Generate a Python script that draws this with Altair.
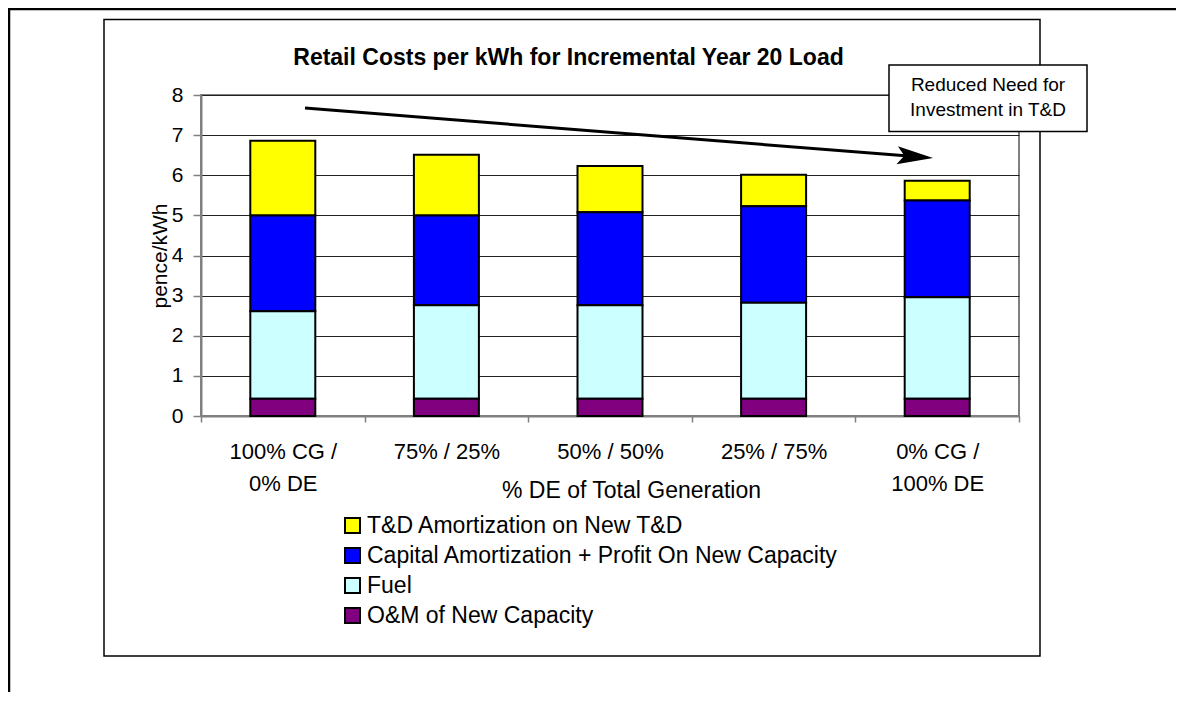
import altair as alt
import pandas as pd

# ---- data ----
categories = ["100% CG /|0% DE", "75%  / 25%", "50% / 50%", "25% / 75%", "0% CG /|100% DE"]
series = [
    "T&D Amortization on New T&D",
    "Capital Amortization + Profit On New Capacity",
    "Fuel",
    "O&M of New Capacity",
]
td_amort = [1.86, 1.51, 1.15, 0.78, 0.49]
capital = [2.39, 2.24, 2.32, 2.41, 2.41]
fuel = [2.18, 2.33, 2.33, 2.39, 2.53]
om = [0.43, 0.43, 0.43, 0.43, 0.43]
colors = ["#FFFF00", "#0000FF", "#CCFFFF", "#800080"]
stack_rank = [3, 2, 1, 0]  # bottom -> top: O&M, Fuel, Capital, T&D
y_ticks = [0, 1, 2, 3, 4, 5, 6, 7, 8]

rows = []
for i, cat in enumerate(categories):
    for s, vals, rk in zip(series, [td_amort, capital, fuel, om], stack_rank):
        rows.append({"cat": cat, "series": s, "value": vals[i], "rank": rk})
df = pd.DataFrame(rows)

FONT = "Liberation Sans"
one = alt.Data(values=[{"a": 1}])

bars = alt.Chart(df).mark_bar(size=65, stroke="black", strokeWidth=2).encode(
    x=alt.X(
        "cat:N",
        sort=categories,
        scale=alt.Scale(paddingInner=0, paddingOuter=0),
        axis=alt.Axis(
            title="% DE of Total Generation",
            titleFontSize=23,
            titleFontWeight="normal",
            titleX=430,
            titleY=81,
            titleAlign="center",
            titleBaseline="alphabetic",
            labelExpr="split(datum.label, '|')",
            labelAngle=0,
            labelFontSize=22,
            labelBaseline="alphabetic",
            labelPadding=36,
            labelLineHeight=32,
            labelColor="black",
            tickBand="extent",
            tickSize=6,
            tickColor="#808080",
            tickWidth=1.5,
            domainColor="#808080",
            domainWidth=2,
            grid=False,
        ),
    ),
    y=alt.Y(
        "value:Q",
        stack="zero",
        scale=alt.Scale(domain=[0, 8], nice=False),
        axis=alt.Axis(
            values=y_ticks,
            title="pence/kWh",
            titleFontSize=21,
            titleFontWeight="normal",
            titleX=-41,
            titleY=160.5,
            titleAlign="center",
            titleBaseline="middle",
            labelFontSize=21,
            labelPadding=10,
            labelColor="black",
            tickSize=8,
            tickColor="#808080",
            tickWidth=1.5,
            domainColor="#808080",
            domainWidth=2,
            grid=True,
            gridColor="#222222",
            gridWidth=1,
        ),
    ),
    color=alt.Color(
        "series:N",
        scale=alt.Scale(domain=series, range=colors),
        legend=alt.Legend(
            title=None,
            orient="none",
            legendX=140,
            legendY=419,
            padding=0,
            symbolType="square",
            symbolSize=225,
            symbolStrokeColor="black",
            symbolStrokeWidth=2,
            labelFontSize=23,
            labelColor="black",
            labelOffset=3,
            labelLimit=700,
            rowPadding=6,
        ),
    ),
    order=alt.Order("rank:Q", sort="ascending"),
)

inner_frame = alt.Chart(one).mark_rect(filled=False, stroke="black", strokeWidth=1.5).encode(
    x=alt.value(-97), x2=alt.value(839), y=alt.value(-75.5), y2=alt.value(561)
)
outer_frame = alt.Chart(one).mark_rect(filled=False, stroke="black", strokeWidth=2.5).encode(
    x=alt.value(-192), x2=alt.value(1000), y=alt.value(-86), y2=alt.value(700)
)
arrow_line = alt.Chart(one).mark_rule(color="black", strokeWidth=3).encode(
    x=alt.value(104), y=alt.value(13), x2=alt.value(714), y2=alt.value(61.6)
)
arrow_head = alt.Chart(one).mark_point(
    shape="M 1 0 L -1 -0.5 L -0.6 0 L -1 0.5 Z",
    filled=True, color="black", opacity=1, size=1296, angle=4.55,
).encode(x=alt.value(714.1), y=alt.value(61.6))
note_box = alt.Chart(one).mark_rect(fill="white", stroke="black", strokeWidth=1.5).encode(
    x=alt.value(688), x2=alt.value(886), y=alt.value(-30), y2=alt.value(36.5)
)
note_text = alt.Chart(one).mark_text(
    text=["Reduced Need for", "Investment in T&D"],
    font=FONT, fontSize=19, lineHeight=25, align="center", baseline="alphabetic", color="black",
).encode(x=alt.value(787), y=alt.value(-4.5))
title_text = alt.Chart(one).mark_text(
    text="Retail Costs per kWh for Incremental Year 20 Load",
    font=FONT, fontSize=23, fontWeight="bold", align="center", baseline="alphabetic", color="black",
).encode(x=alt.value(367.5), y=alt.value(-30))

chart = alt.layer(
    inner_frame, bars, arrow_line, arrow_head, note_box, note_text, title_text, outer_frame
).properties(
    width=818,
    height=321,
    padding={"left": 193, "top": 87, "right": 157, "bottom": 276},
    autosize=alt.AutoSizeParams(type="none"),
).configure(
    font=FONT,
).configure_view(
    stroke="#808080", strokeWidth=2
)

chart.save("out.html", embed_options={"renderer": "svg", "actions": False})
